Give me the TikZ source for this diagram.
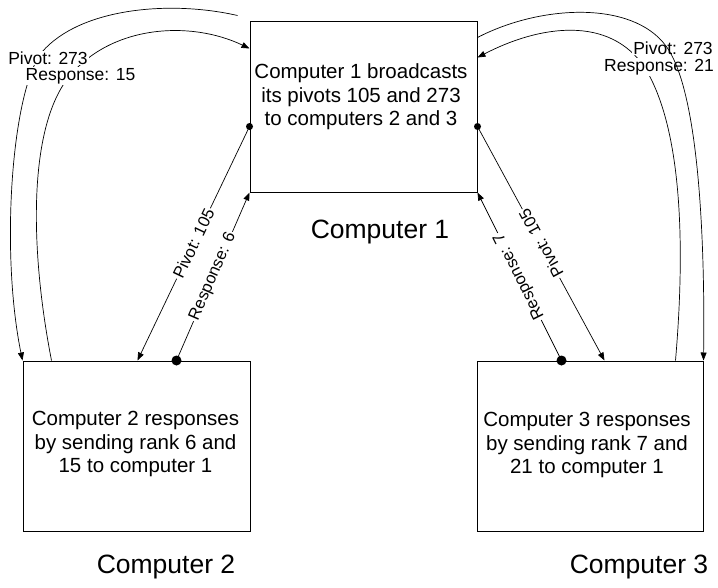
\documentclass[tikz,border=0pt]{standalone}
\usepackage{fontspec}
\setmainfont{Liberation Sans}
\usetikzlibrary{arrows.meta,calc}
\begin{document}
\begin{tikzpicture}[x=1pt,y=-1pt,
  box/.style={draw, line width=1pt, minimum width=227pt, minimum height=171pt, inner sep=0pt},
  boxtext/.style={align=center, font=\fontsize{20.5}{23.5}\selectfont},
  caption/.style={font=\fontsize{26.5}{30}\selectfont},
  conn/.style={line width=0.7pt},
  tip/.style={-{Triangle[length=8pt,width=6pt]}},
  rtip/.style={{Triangle[length=8pt,width=6pt]}-},
  lab/.style={fill=white, inner sep=1pt, font=\fontsize{17.5}{20}\selectfont},
  dlab/.style={fill=white, inner sep=1.5pt, font=\fontsize{16.5}{19}\selectfont, sloped, allow upside down}
]
\useasboundingbox (0,0) rectangle (718,587);

% boxes
\node[box] (c1) at (363.5,106.5) {};
\node[box, minimum height=170pt] (c2) at (136.5,446) {};
\node[box, minimum width=226pt, minimum height=170pt] (c3) at (590,446) {};

% box texts
\node[boxtext] (t1) at (361,97) {Computer 1 broadcasts\\its pivots 105 and 273\\to computers 2 and 3};
\node[boxtext] (t2) at (135.5,444) {Computer 2 responses\\by sending rank 6 and\\15 to computer 1};
\node[boxtext] (t3) at (587,445) {Computer 3 responses\\by sending rank 7 and\\21 to computer 1};

% captions
\node[caption] (k1) at (380,232) {Computer 1};
\node[caption] (k2) at (166,567) {Computer 2};
\node[caption] (k3) at (639,567) {Computer 3};

% anchor points
\coordinate (p1l) at ([yshift=-106pt]c1.north west);
\coordinate (p1r) at ([yshift=-106pt]c1.north east);
\coordinate (p2a) at ([xshift=115pt]c2.north west);
\coordinate (p2d) at ([xshift=154pt]c2.north west);
\coordinate (p3d) at ([xshift=85pt]c3.north west);
\coordinate (p3a) at ([xshift=128pt]c3.north west);
\coordinate (s1) at ([xshift=-12pt,yshift=5pt]c1.north west);
\coordinate (a1l) at ([yshift=-28pt]c1.north west);
\coordinate (r2) at ([xshift=29pt]c2.north west);
\coordinate (s3) at ([yshift=-17pt]c1.north east);
\coordinate (a1r) at ([yshift=-37pt]c1.north east);
\coordinate (r3) at ([xshift=-28pt]c3.north east);

% straight connectors
\draw[conn, rtip] (p2a) -- node[dlab] {Pivot: 105} (p1l);
\draw[conn, tip] (p2d) -- node[dlab] {Response: 6} (c1.south west);
\draw[conn, rtip] (p3a) -- node[dlab] {Pivot: 105} (p1r);
\draw[conn, tip] (p3d) -- node[dlab] {Response: 7} (c1.south east);
\fill (p1l) circle[radius=3.5pt];
\fill (p1r) circle[radius=3.5pt];
\fill (p2d) circle[radius=5pt];
\fill (p3d) circle[radius=5pt];

% left curves
\draw[conn, tip] (s1) .. controls (170,0) and (80,8) .. (42,52) .. controls (12,90) and (0,250) .. (c2.north west);
\draw[conn, tip] (r2) .. controls (30,250) and (28,130) .. (68,78) .. controls (110,25) and (190,20) .. (a1l);
\node[lab] (l1) at (48,58) {Pivot: 273};
\node[lab] (l2) at (80.5,76) {Response: 15};

% right curves
\draw[conn, tip] (r3) .. controls (685,250) and (683,130) .. (645,68) .. controls (610,15) and (540,25) .. (a1r);
\node[lab] (l3) at (673,48) {Pivot: 273};
\node[lab] (l4) at (659,67) {Response: 21};
\draw[conn, tip] (s3) .. controls (540,5) and (632,0) .. (666,46) .. controls (700,92) and (705,250) .. (c3.north east);
\end{tikzpicture}
\end{document}
